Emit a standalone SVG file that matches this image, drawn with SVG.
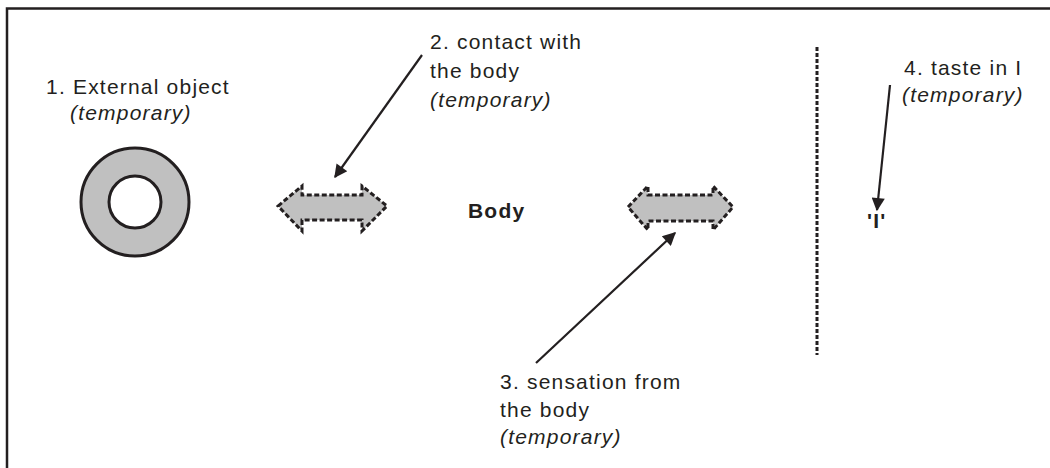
<svg xmlns="http://www.w3.org/2000/svg" width="1050" height="468" viewBox="0 0 1050 468">
<style>
text{font-family:"Liberation Sans",Arial,sans-serif;font-size:21px;fill:#231f20;letter-spacing:1.2px}
.it{font-style:italic}
.b{font-weight:bold}
.dbl{fill:#c0c0c0;stroke:#231f20;stroke-width:3;stroke-dasharray:5 2.5}
.ptr{stroke:#231f20;stroke-width:2.2;fill:none;marker-end:url(#ah)}
</style>
<defs>
<marker id="ah" viewBox="0 0 10 10" refX="9" refY="5" markerWidth="7.5" markerHeight="6" markerUnits="strokeWidth" orient="auto">
<path d="M0,0 L10,5 L0,10 z" fill="#231f20"/>
</marker>
</defs>
<rect width="1050" height="468" fill="#fff"/>
<g id="frame" stroke="#231f20" stroke-width="2.5" fill="none">
<path d="M7,470 V8.5 H1052"/>
</g>
<g id="external-object">
<circle cx="135" cy="202" r="54" fill="#c0c0c0" stroke="#231f20" stroke-width="3"/>
<circle cx="135" cy="202" r="26" fill="#fff" stroke="#231f20" stroke-width="3"/>
<text x="46" y="94">1. External object</text>
<text class="it" x="70" y="120">(temporary)</text>
</g>
<g id="contact-arrow">
<polygon class="dbl" points="278,206 302,186 302,195 362,195 362,186 387,206 362,231 362,220 302,220 302,231"/>
</g>
<g id="contact-label">
<text x="430" y="49">2. contact with</text>
<text x="430" y="78">the body</text>
<text class="it" x="430" y="107">(temporary)</text>
</g>
<g id="body">
<text class="b" x="468" y="218">Body</text>
</g>
<g id="sensation-arrow">
<polygon class="dbl" points="628,207 648,186 648,195 713,195 713,186 733,207 713,230 713,221 648,221 648,230"/>
</g>
<g id="sensation-label">
<text x="500" y="389">3. sensation from</text>
<text x="500" y="417">the body</text>
<text class="it" x="500" y="444">(temporary)</text>
</g>
<g id="taste-label">
<text x="904" y="75">4. taste in I</text>
<text class="it" x="902" y="102">(temporary)</text>
</g>
<g id="I">
<text class="b" x="867" y="228">'I'</text>
</g>
<g id="connectors">
<line class="ptr" x1="422" y1="55" x2="335" y2="177"/>
<line class="ptr" x1="536" y1="363" x2="675" y2="233"/>
<line class="ptr" x1="890" y1="85" x2="877" y2="210"/>
<line x1="817" y1="47" x2="817" y2="355" stroke="#231f20" stroke-width="3" stroke-dasharray="4 2"/>
</g>
</svg>
